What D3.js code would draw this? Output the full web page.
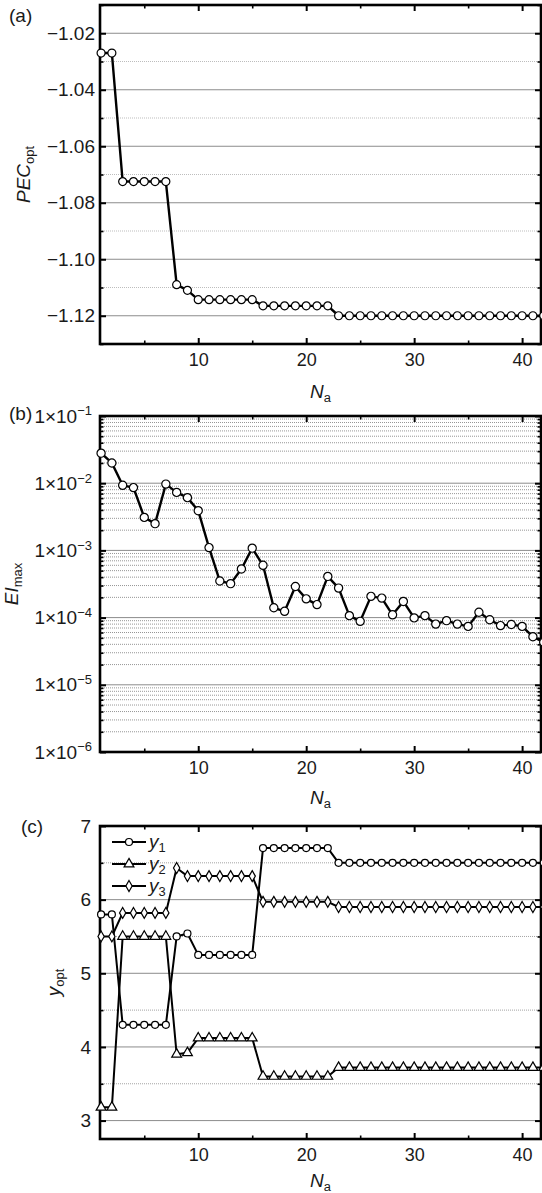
<!DOCTYPE html>
<html>
<head>
<meta charset="utf-8">
<script src="https://cdnjs.cloudflare.com/ajax/libs/d3/7.8.5/d3.min.js"></script>
<style>
  html, body { margin: 0; padding: 0; background: #fff; }
  svg text { font-family: Arial, "Liberation Sans", sans-serif; fill: #1a1a1a; }
</style>
</head>
<body>
<svg id="chart" width="542" height="1193"></svg>
<script>

// number of atoms (x values shared by all panels)
var na = [1,2,3,4,5,6,7,8,9,10,11,12,13,14,15,16,17,18,19,20,21,
          22,23,24,25,26,27,28,29,30,31,32,33,34,35,36,37,38,39,40,41,42];

// (a) optimal PEC
var pecOpt = [-1.027,-1.027,-1.0725,-1.0725,-1.0725,-1.0725,-1.0725,-1.109,-1.111,
              -1.1143,-1.1143,-1.1143,-1.1143,-1.1143,-1.1143,
              -1.1165,-1.1165,-1.1165,-1.1165,-1.1165,-1.1165,-1.1165,
              -1.12,-1.12,-1.12,-1.12,-1.12,-1.12,-1.12,-1.12,-1.12,-1.12,
              -1.12,-1.12,-1.12,-1.12,-1.12,-1.12,-1.12,-1.12,-1.12,-1.12];

// (b) max error indicator
var eiMax = [2.8e-2,2.0e-2,9.3e-3,8.6e-3,3.1e-3,2.5e-3,9.7e-3,7.3e-3,6.1e-3,3.9e-3,
             1.1e-3,3.5e-4,3.2e-4,5.3e-4,1.08e-3,6.0e-4,1.4e-4,1.24e-4,2.9e-4,1.9e-4,
             1.56e-4,4.1e-4,2.75e-4,1.07e-4,8.8e-5,2.07e-4,1.95e-4,1.1e-4,1.74e-4,9.9e-5,
             1.07e-4,8.0e-5,9.0e-5,8.0e-5,7.4e-5,1.2e-4,9.3e-5,7.6e-5,7.9e-5,7.4e-5,
             5.2e-5,4.3e-5];

// (c) optimal y values
var y1 = [5.8,5.8,4.3,4.3,4.3,4.3,4.3,5.5,5.54,5.25,5.25,5.25,5.25,5.25,5.25,
          6.7,6.7,6.7,6.7,6.7,6.7,6.7,
          6.5,6.5,6.5,6.5,6.5,6.5,6.5,6.5,6.5,6.5,6.5,6.5,6.5,6.5,6.5,6.5,6.5,6.5,6.5,6.5];
var y2 = [3.18,3.18,5.5,5.5,5.5,5.5,5.5,3.9,3.92,4.12,4.12,4.12,4.12,4.12,4.12,
          3.6,3.6,3.6,3.6,3.6,3.6,3.6,
          3.72,3.72,3.72,3.72,3.72,3.72,3.72,3.72,3.72,3.72,3.72,3.72,3.72,3.72,3.72,3.72,3.72,3.72,3.72,3.72];
var y3 = [5.5,5.5,5.82,5.82,5.82,5.82,5.82,6.43,6.32,6.32,6.32,6.32,6.32,6.32,6.32,
          5.97,5.97,5.97,5.97,5.97,5.97,5.97,
          5.9,5.9,5.9,5.9,5.9,5.9,5.9,5.9,5.9,5.9,5.9,5.9,5.9,5.9,5.9,5.9,5.9,5.9,5.9,5.9];

// tick values
var xMajor = [10,20,30,40];
var xMinor = [5,15,25,35];
var pecMajor = [-1.02,-1.04,-1.06,-1.08,-1.10,-1.12];
var pecMinor = [-1.01,-1.03,-1.05,-1.07,-1.09,-1.11,-1.13];
var yoptMajor = [3,4,5,6,7];
var yoptMinor = [3.5,4.5,5.5,6.5];

var svg = d3.select('#chart');

var left = 100, right = 541;
var x = d3.scaleLinear().domain([0.9, 41.75]).range([left, right]);

var fmtMinus = function(d) { return d3.format('.2f')(d).replace('-', '\u2212'); };

// symbol paths for the markers
var marker = {
  circle: function(r) { return d3.symbol().type(d3.symbolCircle).size(Math.PI*r*r)(); },
  triangle: function(r) { return d3.symbol().type(d3.symbolTriangle).size(r*r*3.4)(); },
  diamond: function(r) { return d3.symbol().type(d3.symbolDiamond).size(r*r*2.8)(); }
};

function subLabel(sel, main, sub, italicMain) {
  sel.append('tspan').text(main).style('font-style', italicMain ? 'italic' : 'normal');
  sel.append('tspan').text(sub)
    .attr('dy', '0.32em')
    .style('font-size', '0.68em')
    .style('font-style', 'normal');
}

function drawPanel(opts) {
  var g = svg.append('g');
  var y = opts.y.range([opts.bottom, opts.top]);
  var top = opts.top, bottom = opts.bottom;

  // grid lines
  g.append('g').selectAll('line')
    .data(opts.minorGrid)
    .enter().append('line')
      .attr('x1', left).attr('x2', right)
      .attr('y1', function(d) { return y(d); })
      .attr('y2', function(d) { return y(d); })
      .style('stroke', opts.minorColor)
      .style('stroke-width', 0.9)
      .style('stroke-dasharray', '1,1');

  g.append('g').selectAll('line')
    .data(opts.majorGrid)
    .enter().append('line')
      .attr('x1', left).attr('x2', right)
      .attr('y1', function(d) { return y(d); })
      .attr('y2', function(d) { return y(d); })
      .style('stroke', '#8c8c8c')
      .style('stroke-width', 1);

  // axes, ticks pointing inward
  var ax = function(axis, ticks, size, tx, ty, fmt, pad, fs) {
    var a = g.append('g')
      .attr('transform', 'translate(' + tx + ',' + ty + ')')
      .call(axis.tickValues(ticks).tickSize(size).tickPadding(pad || 0)
                .tickFormat(fmt || ''));
    a.select('.domain').remove();
    a.selectAll('line').style('stroke', '#000').style('stroke-width', size === -6 ? 2 : 1.6);
    a.selectAll('text').style('font-size', (fs || 18) + 'px').style('fill', '#1a1a1a');
    return a;
  };

  ax(d3.axisBottom(x), xMajor, -6, 0, bottom, function(d) { return d; }, 9, 18);
  ax(d3.axisBottom(x), xMinor, -3.5, 0, bottom);
  ax(d3.axisTop(x), xMajor, -6, 0, top);
  ax(d3.axisTop(x), xMinor, -3.5, 0, top);

  var yl = ax(d3.axisLeft(y), opts.yMajor, -6, left, 0, opts.yFormat, opts.yPad, 19);
  ax(d3.axisLeft(y), opts.yMinor, -3.5, left, 0);
  ax(d3.axisRight(y), opts.yMajor, -6, right, 0);
  ax(d3.axisRight(y), opts.yMinor, -3.5, right, 0);
  if (opts.yLabelFix) opts.yLabelFix(yl);

  // frame
  g.append('rect')
    .attr('x', left).attr('y', top)
    .attr('width', right - left).attr('height', bottom - top)
    .style('fill', 'none')
    .style('stroke', '#000')
    .style('stroke-width', 2.6);

  // series
  opts.series.forEach(function(s) {
    var line = d3.line()
      .x(function(d, i) { return x(na[i]); })
      .y(function(d) { return y(d); });
    g.append('path')
      .datum(s.values)
      .attr('d', line)
      .style('fill', 'none')
      .style('stroke', '#000')
      .style('stroke-width', opts.lineWidth)
      .style('stroke-linejoin', 'round');
    g.append('g').selectAll('path')
      .data(s.values)
      .enter().append('path')
        .attr('d', marker[s.shape](opts.markerR))
        .attr('transform', function(d, i) {
          return 'translate(' + x(na[i]) + ',' + y(d) + ')';
        })
        .style('fill', '#fff')
        .style('stroke', '#000')
        .style('stroke-width', 1.2);
  });

  // x axis title
  var xt = g.append('text')
    .attr('x', (left + right) / 2)
    .attr('y', bottom + opts.xTitleGap)
    .attr('text-anchor', 'middle')
    .style('font-size', '19px');
  subLabel(xt, 'N', 'a', true);

  // y axis title
  var yt = g.append('text')
    .attr('transform', 'translate(' + opts.yTitleX + ',' + (top + bottom) / 2 + ') rotate(-90)')
    .attr('text-anchor', 'middle')
    .style('font-size', '19px');
  subLabel(yt, opts.yTitle[0], opts.yTitle[1], opts.yTitle[2]);

  // panel letter
  g.append('text')
    .attr('x', opts.letterX).attr('y', opts.letterY)
    .style('font-size', '19px')
    .text(opts.letter);

  return { g: g, y: y };
}

// (a)
drawPanel({
  top: 5, bottom: 344,
  y: d3.scaleLinear().domain([-1.13, -1.01]),
  yMajor: pecMajor, yMinor: pecMinor,
  majorGrid: pecMajor, minorGrid: pecMinor, minorColor: '#b5b5b5',
  yFormat: fmtMinus, yPad: 5,
  series: [{ values: pecOpt, shape: 'circle' }],
  lineWidth: 2.4, markerR: 4,
  xTitleGap: 54, yTitleX: 30,
  yTitle: ['PEC', 'opt', true],
  letter: '(a)', letterX: 9, letterY: 22
});

// (b) log axis: decades get labels, 2..9 get minor ticks
var eiY = d3.scaleLog().domain([1e-6, 1e-1]);
var eiMajor = eiY.ticks().filter(function(d) {
  return Math.abs(Math.log10(d) - Math.round(Math.log10(d))) < 1e-9;
});
var eiMinor = eiY.ticks().filter(function(d) { return eiMajor.indexOf(d) < 0; });

drawPanel({
  top: 416, bottom: 752,
  y: eiY,
  yMajor: eiMajor, yMinor: eiMinor,
  majorGrid: eiMajor, minorGrid: eiMinor, minorColor: '#8a8a8a',
  yFormat: function() { return ''; }, yPad: 8,
  yLabelFix: function(a) {
    a.selectAll('.tick text').each(function(d) {
      var t = d3.select(this);
      t.text('');
      t.append('tspan').text('1\u00d710');
      t.append('tspan').text('\u2212' + Math.round(-Math.log10(d)))
        .attr('dy', '-0.55em')
        .style('font-size', '13px');
    });
  },
  series: [{ values: eiMax, shape: 'circle' }],
  lineWidth: 2.4, markerR: 4.1,
  xTitleGap: 52, yTitleX: 18,
  yTitle: ['EI', 'max', true],
  letter: '(b)', letterX: 9, letterY: 420
});

// (c)
var pc = drawPanel({
  top: 826, bottom: 1139,
  y: d3.scaleLinear().domain([2.75, 7]),
  yMajor: yoptMajor, yMinor: yoptMinor,
  majorGrid: yoptMajor, minorGrid: yoptMinor, minorColor: '#9a9a9a',
  yFormat: function(d) { return d; }, yPad: 9,
  series: [
    { values: y1, shape: 'circle', name: '1' },
    { values: y2, shape: 'triangle', name: '2' },
    { values: y3, shape: 'diamond', name: '3' }
  ],
  lineWidth: 2, markerR: 3.5,
  xTitleGap: 48, yTitleX: 60,
  yTitle: ['y', 'opt', true],
  letter: '(c)', letterX: 21, letterY: 833
});

// legend for (c)
var legendRows = [
  { shape: 'circle', name: '1' },
  { shape: 'triangle', name: '2' },
  { shape: 'diamond', name: '3' }
];
var legend = pc.g.append('g').attr('transform', 'translate(112,842)');
var rows = legend.selectAll('g')
  .data(legendRows)
  .enter().append('g')
    .attr('transform', function(d, i) { return 'translate(0,' + i * 22 + ')'; });
rows.append('line')
  .attr('x1', 0).attr('x2', 34)
  .style('stroke', '#000').style('stroke-width', 2);
rows.append('path')
  .attr('d', function(d) { return marker[d.shape](3.5); })
  .attr('transform', 'translate(17,0)')
  .style('fill', '#fff').style('stroke', '#000').style('stroke-width', 1.2);
rows.append('text')
  .attr('x', 37).attr('y', 6)
  .style('font-size', '19px')
  .each(function(d) { subLabel(d3.select(this), 'y', d.name, true); });

</script>
</body>
</html>
